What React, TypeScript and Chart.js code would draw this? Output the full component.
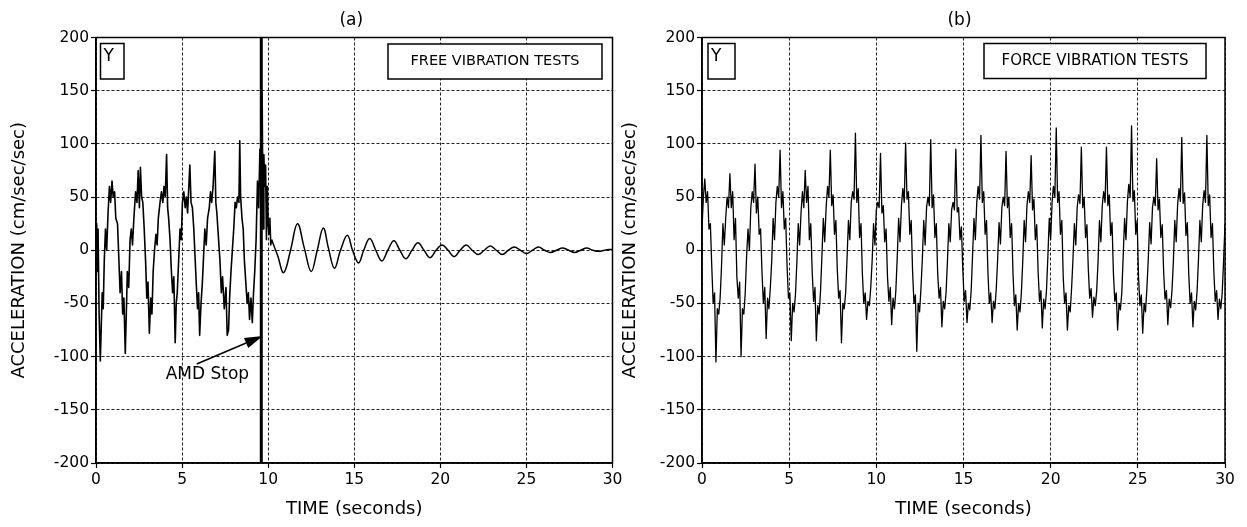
import React, { useEffect, useRef } from 'react';
import { Chart, registerables } from 'chart.js';

Chart.register(...registerables);

const FONT = '"DejaVu Sans", "Liberation Sans", sans-serif';

// ---------- axes ----------
const X_TICKS = [0, 5, 10, 15, 20, 25, 30];
const Y_TICKS = [-200, -150, -100, -50, 0, 50, 100, 150, 200];
const X_TITLE = 'TIME (seconds)';
const Y_TITLE = 'ACCELERATION (cm/sec/sec)';

// ---------- panel (a): free vibration test ----------
const forcedTimeA = [
  0, 0.04, 0.08, 0.12, 0.18, 0.25, 0.3, 0.36, 0.42, 0.48, 0.55, 0.62, 0.7, 0.78, 0.85, 0.93, 1.0, 1.08, 1.15, 1.25,
  1.32, 1.4, 1.48, 1.55, 1.62, 1.7, 1.76, 1.82, 1.9, 1.98, 2.05, 2.12, 2.2, 2.3, 2.38, 2.45, 2.52, 2.58, 2.65, 2.72,
  2.8, 2.88, 2.95, 3.02, 3.1, 3.18, 3.25, 3.32, 3.4, 3.48, 3.55, 3.62, 3.72, 3.8, 3.88, 3.95, 4.02, 4.1, 4.16, 4.22,
  4.3, 4.38, 4.45, 4.52, 4.6, 4.66, 4.72, 4.8, 4.88, 4.95, 5.02, 5.1, 5.18, 5.25, 5.32, 5.45, 5.52, 5.6, 5.68, 5.75,
  5.82, 5.9, 5.96, 6.02, 6.1, 6.18, 6.25, 6.32, 6.4, 6.48, 6.58, 6.65, 6.72, 6.8, 6.9, 6.96, 7.02, 7.1, 7.2, 7.28,
  7.35, 7.45, 7.55, 7.62, 7.7, 7.76, 7.84, 7.92, 8.0, 8.08, 8.15, 8.22, 8.3, 8.35, 8.4, 8.48, 8.55, 8.62, 8.7, 8.78,
  8.85, 8.92, 9.0, 9.08, 9.15, 9.22, 9.3, 9.38, 9.45, 9.52, 9.58, 9.65, 9.7, 9.75, 9.8, 9.85, 9.9, 9.95, 10.0, 10.05,
  10.1, 10.15, 10.2,
];
const forcedAccelA = [
  0, 25, -20, 20, -60, -104, -75, -40, -55, -10, 20, 0, 35, 60, 45, 65, 50, 55, 30, 25,
  -5, -40, -20, -60, -45, -97, -60, -20, -35, 10, 20, 5, 30, 55, 45, 75, 40, 78, 50, 45,
  20, -10, -45, -30, -78, -45, -60, -20, 0, 15, 5, 30, 45, 55, 45, 60, 50, 90, 40, 30,
  10, -20, -40, -25, -87, -50, -40, -10, 20, 10, 45, 55, 40, 50, 35, 80, 45, 40, 20, -5,
  -30, -55, -40, -80, -50, -30, -5, 20, 5, 30, 40, 55, 45, 60, 93, 45, 35, 15, -10, -40,
  -25, -55, -35, -80, -75, -45, -20, 0, 20, 45, 40, 50, 45, 103, 50, 30, 20, -10, -30, -50,
  -40, -65, -45, -68, -40, -20, 10, 65, 40, 95, 60, 148, 20, 90, 60, 80, 10, 60, 25, 15,
  30, 5, 10,
];
const freeTimeA = [
  10.2, 10.55, 10.9, 11.3, 11.7, 12.1, 12.5, 12.85, 13.2, 13.5, 13.85, 14.2, 14.6, 14.9, 15.25, 15.55, 15.9, 16.25,
  16.6, 16.95, 17.3, 17.65, 18.0, 18.35, 18.7, 19.05, 19.4, 19.75, 20.1, 20.45, 20.8, 21.15, 21.5, 21.85, 22.2, 22.55,
  22.9, 23.25, 23.6, 23.95, 24.3, 24.65, 25.0, 25.35, 25.7, 26.05, 26.4, 26.75, 27.1, 27.45, 27.8, 28.15, 28.5, 28.85,
  29.2, 29.55, 30.0,
];
const freeAccelA = [
  10, -5, -21, 0, 25, 2, -20, 0, 21, 2, -17, 0, 14, 0, -12, 0, 11, 0,
  -10, 0, 9, 0, -8, 0, 7, 0, -7, 0, 5, 0, -6, 0, 5, 0, -4, 0,
  4, 0, -4, 0, 3, 0, -3, 0, 3, 0, -2, 0, 2, 0, -2, 0, 2, 0,
  -1, 0, 1,
];
const STOP_TIME_A = 9.6;
const STOP_RANGE_A = [-200, 200];
const ARROW_FROM_A = { x: 5.85, y: -107 };
const ARROW_TO_A = { x: 9.68, y: -80.5 };
const NOTE_AT_A = { x: 6.47, y: -117 };
const NOTE_TEXT_A = 'AMD Stop';

// ---------- panel (b): forced vibration test (sampled every 0.08 s) ----------
const SAMPLE_DT_B = 0.08;
const accelB = [
  20, 50, 67, 45, 55, 20, 25, -15, -50, -40, -105, -55, -60,
  -45, -15, 25, 5, 30, 50, 40, 72, 40, 55, 10, 30, -25, -45, -30, -100, -55, -60,
  -40, -5, 20, 0, 40, 55, 45, 81, 35, 50, 15, 20, -20, -50, -35, -83, -45, -55,
  -35, -10, 30, 10, 45, 60, 50, 94, 40, 55, 20, 30, -15, -45, -40, -85, -50, -58,
  -42, -12, 25, 5, 35, 55, 40, 75, 45, 60, 10, 25, -20, -48, -35, -85, -52, -60,
  -38, -5, 30, 8, 40, 60, 50, 94, 42, 52, 15, 28, -18, -45, -38, -87, -50, -55,
  -40, -8, 28, 10, 45, 55, 48, 110, 45, 58, 12, 25, -22, -50, -40, -65, -48, -52,
  -35, -10, 25, 5, 38, 45, 40, 91, 35, 42, 8, 20, -25, -48, -35, -70, -45, -55,
  -38, -6, 30, 8, 42, 58, 45, 101, 48, 55, 15, 28, -20, -50, -42, -95, -50, -58,
  -36, -8, 28, 5, 40, 50, 42, 104, 40, 52, 12, 25, -22, -45, -35, -72, -48, -55,
  -40, -10, 25, 8, 38, 45, 38, 95, 36, 40, 10, 22, -18, -48, -38, -68, -50, -56,
  -38, -5, 30, 10, 45, 60, 48, 108, 45, 55, 15, 28, -20, -50, -40, -68, -48, -55,
  -36, -8, 26, 6, 40, 50, 42, 93, 40, 50, 12, 25, -22, -52, -42, -75, -50, -58,
  -40, -10, 28, 8, 42, 55, 45, 89, 38, 48, 10, 24, -20, -48, -38, -73, -46, -55,
  -38, -6, 30, 10, 45, 60, 50, 115, 45, 55, 15, 28, -25, -50, -40, -75, -52, -58,
  -36, -8, 25, 5, 40, 52, 44, 97, 40, 50, 12, 24, -18, -45, -36, -63, -44, -52,
  -38, -10, 28, 8, 42, 55, 45, 97, 42, 52, 14, 26, -22, -48, -40, -75, -50, -56,
  -40, -6, 30, 10, 45, 62, 50, 117, 46, 56, 15, 28, -25, -52, -42, -78, -50, -58,
  -36, -8, 26, 6, 40, 50, 42, 86, 38, 48, 12, 24, -20, -46, -38, -70, -46, -54,
  -38, -10, 28, 8, 42, 58, 46, 106, 44, 54, 14, 26, -22, -50, -40, -72, -48, -56,
  -38, -8, 28, 8, 42, 56, 45, 108, 42, 52, 12, 25, -20, -48, -38, -65, -46, -55,
  -40, -10, 25,
];

// ---------- layout ----------
type Box = { dx: number; dy: number; w: number; h: number };
type PanelSpec = {
  left: number;
  width: number;
  axisWidth: number;
  padRight: number;
  yTitlePad: number;
  title: string;
  titleDx: number;
  yBox: Box;
  testText: string;
  testFont: number;
  testBox: Box; // dx measured from the right edge of the plot area
  datasets: any[];
  note?: boolean;
};

const H = 527;

const panelA: PanelSpec = {
  left: 0,
  width: 632,
  axisWidth: 96,
  padRight: 19.5,
  yTitlePad: 9,
  title: '(a)',
  titleDx: -3,
  yBox: { dx: 4.5, dy: 6, w: 23.5, h: 35.5 },
  testText: 'FREE VIBRATION TESTS',
  testFont: 14.5,
  testBox: { dx: 10.5, dy: 6.5, w: 214, h: 35 },
  note: true,
  datasets: [
    {
      data: forcedTimeA.map((t, i) => ({ x: t, y: forcedAccelA[i] })),
      borderColor: '#000',
      borderWidth: 1.6,
      tension: 0,
    },
    {
      data: freeTimeA.map((t, i) => ({ x: t, y: freeAccelA[i] })),
      borderColor: '#000',
      borderWidth: 1.5,
      tension: 0.4,
    },
    {
      data: STOP_RANGE_A.map((v) => ({ x: STOP_TIME_A, y: v })),
      borderColor: '#000',
      borderWidth: 3,
      tension: 0,
    },
  ],
};

const panelB: PanelSpec = {
  left: 616,
  width: 631,
  axisWidth: 86,
  padRight: 22,
  yTitlePad: 4,
  title: '(b)',
  titleDx: -4,
  yBox: { dx: 6, dy: 6, w: 27, h: 35.5 },
  testText: 'FORCE VIBRATION TESTS',
  testFont: 15,
  testBox: { dx: 19, dy: 6, w: 222, h: 35 },
  datasets: [
    {
      data: accelB.map((v, i) => ({ x: i * SAMPLE_DT_B, y: v })),
      borderColor: '#000',
      borderWidth: 1.3,
      tension: 0,
    },
  ],
};

function decorPlugin(spec: PanelSpec) {
  return {
    id: 'decor',
    afterDraw(chart: any) {
      const { ctx, chartArea: a } = chart;
      const xs = chart.scales.x;
      const ys = chart.scales.y;
      ctx.save();
      ctx.fillStyle = '#000';
      ctx.strokeStyle = '#000';

      // plot frame
      ctx.lineWidth = 1.5;
      ctx.setLineDash([]);
      ctx.strokeRect(a.left, a.top, a.right - a.left, a.bottom - a.top);

      // panel title
      ctx.font = `17px ${FONT}`;
      ctx.textAlign = 'center';
      ctx.textBaseline = 'middle';
      ctx.fillText(spec.title, (a.left + a.right) / 2 + spec.titleDx, 21);

      // "Y" box
      const yb = spec.yBox;
      ctx.fillStyle = '#fff';
      ctx.fillRect(a.left + yb.dx, a.top + yb.dy, yb.w, yb.h);
      ctx.fillStyle = '#000';
      ctx.lineWidth = 1.5;
      ctx.strokeRect(a.left + yb.dx, a.top + yb.dy, yb.w, yb.h);
      ctx.font = `17px ${FONT}`;
      ctx.textAlign = 'left';
      ctx.fillText('Y', a.left + yb.dx + 3, a.top + yb.dy + 13);

      // test type box
      const tb = spec.testBox;
      const bx = a.right - tb.dx - tb.w;
      ctx.fillStyle = '#fff';
      ctx.fillRect(bx, a.top + tb.dy, tb.w, tb.h);
      ctx.fillStyle = '#000';
      ctx.strokeRect(bx, a.top + tb.dy, tb.w, tb.h);
      ctx.font = `${spec.testFont}px ${FONT}`;
      ctx.textAlign = 'center';
      ctx.fillText(spec.testText, bx + tb.w / 2, a.top + tb.dy + tb.h / 2);

      // annotation
      if (spec.note) {
        const x0 = xs.getPixelForValue(ARROW_FROM_A.x);
        const y0 = ys.getPixelForValue(ARROW_FROM_A.y);
        const x1 = xs.getPixelForValue(ARROW_TO_A.x);
        const y1 = ys.getPixelForValue(ARROW_TO_A.y);
        const ang = Math.atan2(y1 - y0, x1 - x0);
        const hl = 18;
        const hw = 5.5;
        const bxh = x1 - hl * Math.cos(ang);
        const byh = y1 - hl * Math.sin(ang);
        ctx.lineWidth = 1.6;
        ctx.beginPath();
        ctx.moveTo(x0, y0);
        ctx.lineTo(bxh, byh);
        ctx.stroke();
        ctx.beginPath();
        ctx.moveTo(x1, y1);
        ctx.lineTo(bxh + hw * Math.sin(ang), byh - hw * Math.cos(ang));
        ctx.lineTo(bxh - hw * Math.sin(ang), byh + hw * Math.cos(ang));
        ctx.closePath();
        ctx.fill();
        ctx.font = `17px ${FONT}`;
        ctx.textAlign = 'center';
        ctx.textBaseline = 'middle';
        ctx.fillText(NOTE_TEXT_A, xs.getPixelForValue(NOTE_AT_A.x), ys.getPixelForValue(NOTE_AT_A.y));
      }
      ctx.restore();
    },
  };
}

function buildConfig(spec: PanelSpec): any {
  const tickFont = { family: FONT, size: 15.5 };
  const titleFont = { family: FONT, size: 18 };
  return {
    type: 'line',
    data: { datasets: spec.datasets },
    options: {
      responsive: false,
      maintainAspectRatio: false,
      animation: false,
      devicePixelRatio: 1,
      layout: {
        autoPadding: false,
        padding: { left: 0, right: spec.padRight, top: 37.5, bottom: 0 },
      },
      elements: { point: { radius: 0 }, line: { borderJoinStyle: 'round' } },
      plugins: {
        legend: { display: false },
        tooltip: { enabled: false },
        title: { display: false },
      },
      scales: {
        x: {
          type: 'linear',
          min: 0,
          max: 30,
          afterBuildTicks: (s: any) => {
            s.ticks = X_TICKS.map((v) => ({ value: v }));
          },
          afterFit: (s: any) => {
            s.height = 64;
            s.paddingLeft = 0;
            s.paddingRight = 0;
          },
          grid: {
            color: '#222',
            lineWidth: 1,
            tickLength: 5,
            tickColor: '#000',
            tickWidth: 1.2,
            tickBorderDash: [],
          },
          border: { display: true, color: '#000', width: 1.5, dash: [3, 2] },
          ticks: { color: '#000', font: tickFont, padding: 3, maxRotation: 0, autoSkip: false },
          title: {
            display: true,
            text: X_TITLE,
            color: '#000',
            font: titleFont,
            padding: { top: 0, bottom: 7 },
          },
        },
        y: {
          type: 'linear',
          min: -200,
          max: 200,
          afterBuildTicks: (s: any) => {
            s.ticks = Y_TICKS.map((v) => ({ value: v }));
          },
          afterFit: (s: any) => {
            s.width = spec.axisWidth;
            s.paddingTop = 0;
            s.paddingBottom = 0;
          },
          grid: {
            color: '#222',
            lineWidth: 1,
            tickLength: 5,
            tickColor: '#000',
            tickWidth: 1.2,
            tickBorderDash: [],
          },
          border: { display: true, color: '#000', width: 1.5, dash: [3, 2] },
          ticks: { color: '#000', font: tickFont, padding: 2, autoSkip: false },
          title: {
            display: true,
            text: Y_TITLE,
            color: '#000',
            font: titleFont,
            padding: { top: spec.yTitlePad, bottom: 0 },
          },
        },
      },
    },
    plugins: [decorPlugin(spec)],
  };
}

function Panel({ spec }: { spec: PanelSpec }) {
  const ref = useRef<HTMLCanvasElement>(null);
  useEffect(() => {
    const chart = new Chart(ref.current as HTMLCanvasElement, buildConfig(spec));
    return () => chart.destroy();
  }, [spec]);
  return (
    <canvas
      ref={ref}
      width={spec.width}
      height={H}
      style={{ position: 'absolute', left: spec.left, top: 0, width: spec.width, height: H }}
    />
  );
}

export default function App() {
  return (
    <div style={{ position: 'absolute', left: 0, top: 0, width: 1247, height: H, background: '#fff' }}>
      <Panel spec={panelA} />
      <Panel spec={panelB} />
    </div>
  );
}
